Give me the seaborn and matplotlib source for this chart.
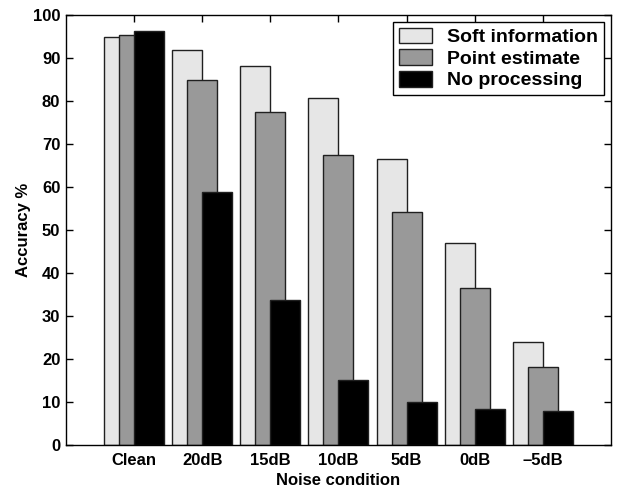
import matplotlib
matplotlib.use("Agg")
import matplotlib.pyplot as plt
import seaborn as sns
import pandas as pd

categories = ["Clean", "20dB", "15dB", "10dB", "5dB", "0dB", "\u20135dB"]
series_names = ["Soft information", "Point estimate", "No processing"]
soft_info = [94.8, 91.9, 88.2, 80.8, 66.5, 46.9, 24.0]
point_est = [95.3, 84.8, 77.4, 67.5, 54.2, 36.5, 18.1]
no_proc = [96.3, 58.9, 33.8, 15.2, 10.1, 8.3, 7.9]
yticks = list(range(0, 101, 10))

rows = []
for name, vals in zip(series_names, [soft_info, point_est, no_proc]):
    for c, v in zip(categories, vals):
        rows.append({"Noise condition": c, "Accuracy": v, "Method": name})
df = pd.DataFrame(rows)

sns.set_style("ticks")
plt.rcParams["font.family"] = ["Liberation Sans", "DejaVu Sans"]
plt.rcParams["font.weight"] = "bold"
plt.rcParams["text.color"] = "black"
plt.rcParams["axes.labelcolor"] = "black"

fig = plt.figure(figsize=(6.21, 4.87), dpi=100)
ax = fig.add_axes([0.106, 0.086, 0.878, 0.883])

palette = ["#e6e6e6", "#999999", "#000000"]
sns.barplot(data=df, x="Noise condition", y="Accuracy", hue="Method",
            order=categories, hue_order=series_names, palette=palette,
            width=0.66, gap=-1.0, dodge=True, edgecolor="#202020",
            linewidth=1.0, saturation=1, ax=ax)

ax.set_xlim(-1, 7)
ax.set_ylim(0, 100)
ax.set_yticks(yticks)
ax.set_yticklabels([str(t) for t in yticks])
ax.set_xticks(range(len(categories)))
ax.set_xticklabels(categories)
ax.tick_params(axis="both", direction="in", length=5, width=1,
               top=True, right=True, labelsize=12, colors="black")
ax.tick_params(axis="y", pad=4)
ax.tick_params(axis="x", pad=6)
for lab in ax.get_xticklabels() + ax.get_yticklabels():
    lab.set_fontweight("bold")
for sp in ax.spines.values():
    sp.set_visible(True)
    sp.set_linewidth(1.0)
    sp.set_color("black")

ax.set_xlabel("Noise condition", fontsize=12, fontweight="bold", labelpad=3, color="black")
ax.set_ylabel("Accuracy %", fontsize=12, fontweight="bold", labelpad=1, color="black")

leg = ax.legend(loc="upper right", fontsize=14, frameon=True, fancybox=False,
                edgecolor="black", framealpha=1, borderpad=0.3,
                handlelength=1.7, handleheight=0.87, handletextpad=0.8,
                labelspacing=0.15, borderaxespad=0.35)
leg.get_frame().set_linewidth(1.0)
for t in leg.get_texts():
    t.set_fontweight("bold")
    t.set_color("black")

fig.savefig("out.png", dpi=100)
